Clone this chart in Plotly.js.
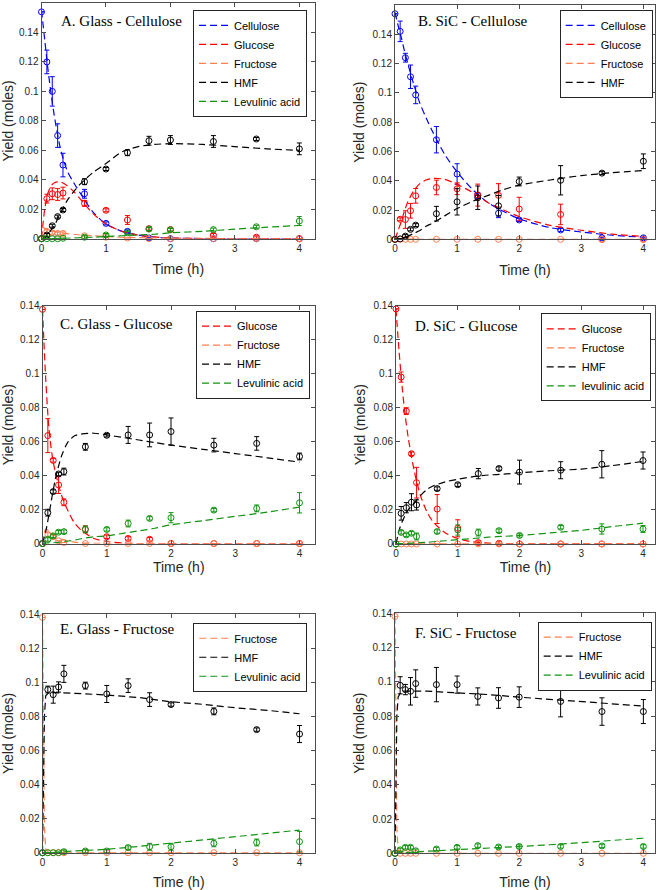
<!DOCTYPE html>
<html>
<head>
<meta charset="utf-8">
<script src="https://cdn.plot.ly/plotly-3.0.1.min.js"></script>
<style>html,body{margin:0;padding:0;background:#fff;}#chart{width:660px;height:890px;}</style>
</head>
<body>
<div id="chart"></div>
<script>
// ---------- sampling times ----------
const tData = [0, 0.083, 0.167, 0.25, 0.333, 0.667, 1, 1.333, 1.667, 2, 2.667, 3.333, 4];
const tModel = [0, 0.05, 0.1, 0.15, 0.2, 0.3, 0.4, 0.5, 0.6, 0.8, 1, 1.25, 1.5, 1.75, 2, 2.5, 3, 3.5, 4];
const tFast = [0, 0.01, 0.02, 0.03, 0.05, 0.1, 0.5, 1, 1.5, 2, 2.5, 3, 3.5, 4];

// ---------- tick labels ----------
const xTickVals = [0, 1, 2, 3, 4];
const xTickText = ['0', '1', '2', '3', '4'];
const yTickVals16 = [0, 0.02, 0.04, 0.06, 0.08, 0.1, 0.12, 0.14, 0.16];
const yTickText16 = ['0', '0.02', '0.04', '0.06', '0.08', '0.1', '0.12', '0.14', '0.16'];
const yTickVals14 = [0, 0.02, 0.04, 0.06, 0.08, 0.1, 0.12, 0.14];
const yTickText14 = ['0', '0.02', '0.04', '0.06', '0.08', '0.1', '0.12', '0.14'];

const panelTitles = ['A. Glass - Cellulose', 'B. SiC - Cellulose', 'C. Glass - Glucose', 'D. SiC - Glucose', 'E. Glass - Fructose', 'F. SiC - Fructose'];
const xTitle = 'Time (h)';
const yTitle = 'Yield (moles)';

// ---------- A. Glass - Cellulose ----------
const A_cel = [0.154, 0.120, 0.100, 0.070, 0.050, 0.0305, 0.0104, 0.005, 0.0005, 0, 0, 0, 0];
const A_cel_err = [0, 0.008, 0.010, 0.008, 0.008, 0.003, 0.001, 0.001, 0, 0, 0, 0, 0];
const A_glu = [0, 0.0272, 0.0305, 0.030, 0.031, 0.024, 0.0193, 0.0127, 0.0068, 0.0062, 0.0025, 0.001, 0];
const A_glu_err = [0, 0.003, 0.004, 0.004, 0.004, 0.002, 0.001, 0.003, 0.001, 0.001, 0.001, 0.001, 0];
const A_fru = [0, 0.005, 0.004, 0.0036, 0.0036, 0.002, 0.001, 0.0005, 0, 0, 0, 0, 0];
const A_fru_err = [0, 0.001, 0.001, 0.001, 0.001, 0, 0, 0, 0, 0, 0, 0, 0];
const A_hmf = [0, 0.0025, 0.0088, 0.015, 0.0195, 0.0387, 0.0473, 0.0584, 0.0665, 0.067, 0.066, 0.0677, 0.061];
const A_hmf_err = [0, 0.001, 0.001, 0.001, 0.001, 0.002, 0.001, 0.002, 0.003, 0.003, 0.004, 0.001, 0.004];
const A_lev = [0, 0, 0, 0, 0.0003, 0.001, 0.0025, 0.004, 0.0065, 0.006, 0.0062, 0.0081, 0.012];
const A_lev_err = [0, 0, 0, 0, 0, 0.001, 0.001, 0.001, 0.001, 0.001, 0.001, 0.001, 0.003];
const A_cel_m = [0.155, 0.135, 0.115, 0.098, 0.083, 0.060, 0.046, 0.038, 0.031, 0.018, 0.010, 0.005, 0.0025, 0.001, 0.0005, 0.0001, 0, 0, 0];
const A_glu_m = [0, 0.020, 0.031, 0.036, 0.038, 0.0385, 0.036, 0.032, 0.027, 0.017, 0.010, 0.005, 0.0025, 0.0012, 0.0005, 0.0001, 0, 0, 0];
const A_fru_m = [0.008, 0.007, 0.006, 0.0055, 0.005, 0.004, 0.0035, 0.003, 0.0025, 0.002, 0.0015, 0.001, 0.0007, 0.0005, 0.0003, 0.0002, 0.0001, 0, 0];
const A_hmf_m = [0, 0.001, 0.003, 0.006, 0.009, 0.018, 0.026, 0.032, 0.037, 0.045, 0.051, 0.059, 0.0625, 0.064, 0.0645, 0.064, 0.0625, 0.061, 0.060];
const A_lev_m = [0, 0, 0, 0, 0.0001, 0.0002, 0.0003, 0.0005, 0.0007, 0.001, 0.0015, 0.002, 0.0025, 0.003, 0.004, 0.005, 0.0065, 0.0078, 0.009];

// ---------- B. SiC - Cellulose ----------
const B_cel = [0.154, 0.142, 0.124, 0.111, 0.0986, 0.068, 0.0446, 0.030, 0.0178, 0.0132, 0.0064, 0.001, 0.001];
const B_cel_err = [0, 0.007, 0.003, 0.008, 0.006, 0.009, 0.007, 0.002, 0.003, 0.001, 0.001, 0, 0];
const B_glu = [0, 0.0137, 0.0135, 0.0195, 0.0297, 0.0354, 0.0345, 0.0302, 0.030, 0.0207, 0.017, 0, 0];
const B_glu_err = [0, 0.001, 0.006, 0.005, 0.005, 0.005, 0.004, 0.0075, 0.008, 0.008, 0.007, 0, 0];
const B_fru = [0, 0, 0, 0, 0, 0, 0, 0, 0, 0, 0, 0, 0];
const B_fru_err = [0, 0, 0, 0, 0, 0, 0, 0, 0, 0, 0, 0, 0];
const B_hmf = [0, 0.0003, 0.0022, 0.0068, 0.0097, 0.0175, 0.0256, 0.0284, 0.0229, 0.0395, 0.0403, 0.0452, 0.0533];
const B_hmf_err = [0, 0, 0.001, 0.001, 0.001, 0.005, 0.009, 0.008, 0.007, 0.003, 0.010, 0.001, 0.005];
const B_cel_m = [0.155, 0.146, 0.138, 0.129, 0.121, 0.106, 0.093, 0.083, 0.074, 0.058, 0.046, 0.034, 0.025, 0.019, 0.014, 0.008, 0.005, 0.0028, 0.0015];
const B_glu_m = [0, 0.006, 0.012, 0.019, 0.025, 0.033, 0.038, 0.0405, 0.0415, 0.041, 0.0375, 0.032, 0.025, 0.020, 0.0155, 0.0095, 0.0062, 0.0035, 0.002];
const B_fru_m = [0, 0, 0, 0, 0, 0, 0, 0, 0, 0, 0, 0, 0, 0, 0, 0, 0, 0, 0];
const B_hmf_m = [0, 0.0002, 0.0005, 0.001, 0.002, 0.004, 0.006, 0.009, 0.011, 0.016, 0.021, 0.026, 0.030, 0.034, 0.037, 0.0405, 0.0435, 0.0455, 0.047];

// ---------- C. Glass - Glucose ----------
const C_glu = [0.138, 0.0636, 0.049, 0.0345, 0.0243, 0.0084, 0.004, 0.003, 0.0025, 0, 0, 0, 0];
const C_glu_err = [0, 0.010, 0.001, 0.005, 0.002, 0.002, 0.001, 0.001, 0.001, 0, 0, 0, 0];
const C_fru = [0, 0.0053, 0.004, 0.0016, 0.0006, 0, 0, 0, 0, 0, 0, 0, 0];
const C_fru_err = [0, 0.001, 0.001, 0, 0, 0, 0, 0, 0, 0, 0, 0, 0];
const C_hmf = [0, 0.0182, 0.0306, 0.041, 0.0424, 0.057, 0.0638, 0.064, 0.064, 0.066, 0.058, 0.059, 0.0513];
const C_hmf_err = [0, 0.002, 0.001, 0.001, 0.002, 0.002, 0.001, 0.005, 0.007, 0.008, 0.004, 0.004, 0.002];
const C_lev = [0, 0.0024, 0.0045, 0.0067, 0.007, 0.0083, 0.0083, 0.0118, 0.0148, 0.0152, 0.0197, 0.0207, 0.024];
const C_lev_err = [0, 0.001, 0.001, 0.001, 0.001, 0.002, 0.001, 0.002, 0.001, 0.003, 0.001, 0.002, 0.006];
const C_glu_m = [0.138, 0.097, 0.068, 0.052, 0.042, 0.028, 0.019, 0.012, 0.008, 0.003, 0.0012, 0.0003, 0, 0, 0, 0, 0, 0, 0];
const C_fru_m = [0, 0.0085, 0.0075, 0.006, 0.0045, 0.0025, 0.0015, 0.0008, 0.0004, 0.0001, 0, 0, 0, 0, 0, 0, 0, 0, 0];
const C_hmf_m = [0, 0.007, 0.017, 0.028, 0.038, 0.052, 0.060, 0.0635, 0.0645, 0.065, 0.064, 0.0625, 0.061, 0.0595, 0.058, 0.0555, 0.053, 0.0505, 0.048];
const C_lev_m = [0, 0.0001, 0.0002, 0.0004, 0.0005, 0.001, 0.0015, 0.002, 0.0028, 0.004, 0.0045, 0.006, 0.0075, 0.009, 0.011, 0.0135, 0.016, 0.0185, 0.0215];

// ---------- D. SiC - Glucose ----------
const D_glu = [0.138, 0.098, 0.078, 0.053, 0.036, 0.0205, 0.0092, 0.0008, 0.0004, 0, 0, 0, 0];
const D_glu_err = [0, 0.003, 0.002, 0.001, 0.009, 0.0085, 0.005, 0.001, 0.001, 0, 0, 0, 0];
const D_fru = [0, 0, 0, 0, 0, 0, 0, 0, 0, 0, 0, 0, 0];
const D_fru_err = [0, 0, 0, 0, 0, 0, 0, 0, 0, 0, 0, 0, 0];
const D_hmf = [0, 0.018, 0.0213, 0.0245, 0.0229, 0.0325, 0.0348, 0.0413, 0.0443, 0.0422, 0.0433, 0.0468, 0.049];
const D_hmf_err = [0, 0.004, 0.003, 0.005, 0.003, 0.001, 0.001, 0.003, 0.001, 0.007, 0.005, 0.008, 0.005];
const D_lev = [0, 0.0068, 0.0053, 0.0063, 0.0044, 0.0073, 0.0082, 0.0067, 0.0078, 0.005, 0.0098, 0.0088, 0.0088];
const D_lev_err = [0, 0.001, 0.001, 0.001, 0.002, 0.001, 0.003, 0.002, 0.001, 0.001, 0.001, 0.003, 0.002];
const D_glu_m = [0.138, 0.113, 0.092, 0.075, 0.062, 0.042, 0.028, 0.019, 0.013, 0.0065, 0.0032, 0.0012, 0.0005, 0.0002, 0.0001, 0, 0, 0, 0];
const D_fru_m = [0, 0, 0, 0, 0, 0, 0, 0, 0, 0, 0, 0, 0, 0, 0, 0, 0, 0, 0];
const D_hmf_m = [0, 0.008, 0.013, 0.017, 0.020, 0.0245, 0.0285, 0.032, 0.034, 0.0365, 0.038, 0.0395, 0.0405, 0.041, 0.0418, 0.043, 0.044, 0.046, 0.0485];
const D_lev_m = [0, 0.0001, 0.0002, 0.0003, 0.0004, 0.0006, 0.0008, 0.001, 0.0013, 0.0019, 0.0025, 0.0032, 0.004, 0.0045, 0.005, 0.0065, 0.008, 0.0102, 0.0122];

// ---------- E. Glass - Fructose ----------
const E_fru = [0.138, 0, 0, 0, 0, 0, 0, 0, 0, 0, 0, 0, 0];
const E_fru_err = [0, 0, 0, 0, 0, 0, 0, 0, 0, 0, 0, 0, 0];
const E_hmf = [0, 0.0957, 0.0927, 0.0972, 0.1049, 0.098, 0.0931, 0.098, 0.0898, 0.0869, 0.0829, 0.0722, 0.0696];
const E_hmf_err = [0, 0.002, 0.005, 0.003, 0.005, 0.002, 0.005, 0.004, 0.004, 0.001, 0.002, 0.001, 0.005];
const E_lev = [0, 0, 0, 0, 0.0006, 0.001, 0.001, 0.003, 0.0035, 0.0035, 0.0055, 0.006, 0.0065];
const E_lev_err = [0, 0, 0, 0, 0.001, 0.001, 0.001, 0.001, 0.002, 0.002, 0.002, 0.002, 0.006];
const E_fru_m = [0.138, 0.09, 0.045, 0.015, 0.002, 0, 0, 0, 0, 0, 0, 0, 0, 0];
const E_hmf_m = [0, 0.03, 0.06, 0.08, 0.092, 0.094, 0.0935, 0.0925, 0.091, 0.0885, 0.087, 0.085, 0.0835, 0.0815];
const E_lev_m = [0, 0, 0, 0, 0, 0.0001, 0.001, 0.002, 0.0037, 0.0055, 0.0074, 0.0094, 0.0113, 0.0133];

// ---------- F. SiC - Fructose ----------
const F_fru = [0.138, 0, 0, 0, 0, 0, 0, 0, 0, 0, 0, 0, 0];
const F_fru_err = [0, 0, 0, 0, 0, 0, 0, 0, 0, 0, 0, 0, 0];
const F_hmf = [0, 0.0979, 0.0954, 0.0944, 0.0989, 0.0983, 0.0983, 0.0914, 0.0905, 0.091, 0.0885, 0.0826, 0.0826];
const F_hmf_err = [0, 0.005, 0.003, 0.008, 0.008, 0.010, 0.005, 0.005, 0.006, 0.006, 0.009, 0.008, 0.007];
const F_lev = [0, 0.002, 0.0035, 0.0035, 0.0015, 0.0025, 0.0035, 0.0045, 0.0037, 0.004, 0.004, 0.0043, 0.004];
const F_lev_err = [0, 0.001, 0.001, 0.001, 0.001, 0.001, 0.001, 0.001, 0.001, 0.001, 0.001, 0.001, 0.001];
const F_fru_m = [0.138, 0.09, 0.045, 0.015, 0.002, 0, 0, 0, 0, 0, 0, 0, 0, 0];
const F_hmf_m = [0, 0.03, 0.06, 0.08, 0.091, 0.0945, 0.0945, 0.0935, 0.0925, 0.091, 0.0897, 0.0885, 0.0872, 0.0858];
const F_lev_m = [0, 0, 0, 0, 0, 0.0002, 0.0012, 0.002, 0.003, 0.004, 0.005, 0.0062, 0.0075, 0.0088];

// ---------- styling ----------
const COL = {cel: '#0000FF', glu: '#FF0000', fru: '#FF7F50', hmf: '#000000', lev: '#119311'};
const DASH = '7px,4px';
const SANS = 'Liberation Sans, Arial, sans-serif';
const SERIF = 'Liberation Serif, Times New Roman, serif';

const traces = [];
function series(p, name, color, tm, ym, yd, err, shape) {
  const ax = p === 1 ? '' : String(p);
  traces.push({
    x: tm, y: ym, type: 'scatter', mode: 'lines', name: name,
    xaxis: 'x' + ax, yaxis: 'y' + ax, legend: 'legend' + ax,
    line: {color: color, dash: DASH, width: 1.2, shape: shape || 'spline', smoothing: 0.8},
    hoverinfo: 'skip'
  });
  traces.push({
    x: tData, y: yd, type: 'scatter', mode: 'markers', name: name, showlegend: false,
    xaxis: 'x' + ax, yaxis: 'y' + ax, cliponaxis: false,
    marker: {symbol: 'circle-open', size: 6, color: color, line: {width: 1, color: color}},
    error_y: {type: 'data', array: err, visible: true, color: color, thickness: 1, width: 2.5}
  });
}

series(1, 'Cellulose', COL.cel, tModel, A_cel_m, A_cel, A_cel_err);
series(1, 'Glucose', COL.glu, tModel, A_glu_m, A_glu, A_glu_err);
series(1, 'Fructose', COL.fru, tModel, A_fru_m, A_fru, A_fru_err);
series(1, 'HMF', COL.hmf, tModel, A_hmf_m, A_hmf, A_hmf_err);
series(1, 'Levulinic acid', COL.lev, tModel, A_lev_m, A_lev, A_lev_err);

series(2, 'Cellulose', COL.cel, tModel, B_cel_m, B_cel, B_cel_err);
series(2, 'Glucose', COL.glu, tModel, B_glu_m, B_glu, B_glu_err);
series(2, 'Fructose', COL.fru, tModel, B_fru_m, B_fru, B_fru_err);
series(2, 'HMF', COL.hmf, tModel, B_hmf_m, B_hmf, B_hmf_err);

series(3, 'Glucose', COL.glu, tModel, C_glu_m, C_glu, C_glu_err);
series(3, 'Fructose', COL.fru, tModel, C_fru_m, C_fru, C_fru_err);
series(3, 'HMF', COL.hmf, tModel, C_hmf_m, C_hmf, C_hmf_err);
series(3, 'Levulinic acid', COL.lev, tModel, C_lev_m, C_lev, C_lev_err);

series(4, 'Glucose', COL.glu, tModel, D_glu_m, D_glu, D_glu_err);
series(4, 'Fructose', COL.fru, tModel, D_fru_m, D_fru, D_fru_err);
series(4, 'HMF', COL.hmf, tModel, D_hmf_m, D_hmf, D_hmf_err);
series(4, 'levulinic acid', COL.lev, tModel, D_lev_m, D_lev, D_lev_err);

series(5, 'Fructose', COL.fru, tFast, E_fru_m, E_fru, E_fru_err, 'linear');
series(5, 'HMF', COL.hmf, tFast, E_hmf_m, E_hmf, E_hmf_err, 'linear');
series(5, 'Levulinic acid', COL.lev, tFast, E_lev_m, E_lev, E_lev_err, 'linear');

series(6, 'Fructose', COL.fru, tFast, F_fru_m, F_fru, F_fru_err, 'linear');
series(6, 'HMF', COL.hmf, tFast, F_hmf_m, F_hmf, F_hmf_err, 'linear');
series(6, 'Levulinic acid', COL.lev, tFast, F_lev_m, F_lev, F_lev_err, 'linear');

// ---------- layout ----------
const panels = [
  {xd: [0.0629, 0.4773], yd: [0.7318, 0.9966], xr: [0, 4.243], yr: [0, 0.16], tv: yTickVals16, tt: yTickText16, lx: 0.4652, ly: 0.9888, ax: 0.0894, ay: 0.9764, so: 11},
  {xd: [0.5985, 0.9924], yd: [0.7311, 0.9944], xr: [0, 4.187], yr: [0, 0.16], tv: yTickVals16, tt: yTickText16, lx: 0.9889, ly: 0.9888, ax: 0.6303, ay: 0.9764, so: 11},
  {xd: [0.0644, 0.4773], yd: [0.3893, 0.6562], xr: [0, 4.241], yr: [0, 0.14], tv: yTickVals14, tt: yTickText14, lx: 0.4697, ly: 0.6509, ax: 0.0883, ay: 0.6365, so: 3},
  {xd: [0.6000, 0.9924], yd: [0.3888, 0.6567], xr: [0, 4.194], yr: [0, 0.14], tv: yTickVals14, tt: yTickText14, lx: 0.9859, ly: 0.6480, ax: 0.6262, ay: 0.6340, so: 3},
  {xd: [0.0644, 0.4773], yd: [0.0419, 0.3101], xr: [0, 4.241], yr: [0, 0.14], tv: yTickVals14, tt: yTickText14, lx: 0.4656, ly: 0.3003, ax: 0.0883, ay: 0.2933, so: 10},
  {xd: [0.5985, 0.9924], yd: [0.0412, 0.3112], xr: [0, 4.187], yr: [0, 0.14], tv: yTickVals14, tt: yTickText14, lx: 0.9874, ly: 0.3015, ax: 0.6253, ay: 0.2891, so: 10}
];

const layout = {
  width: 660, height: 890,
  margin: {l: 0, r: 0, t: 0, b: 0},
  paper_bgcolor: '#ffffff', plot_bgcolor: '#ffffff',
  font: {family: SANS, color: '#262626'},
  annotations: []
};
const axCommon = {
  showline: true, linecolor: '#4d4d4d', linewidth: 1, mirror: 'ticks',
  ticks: 'inside', ticklen: 4, tickcolor: '#4d4d4d', tickwidth: 1,
  showgrid: false, zeroline: false, automargin: false, fixedrange: true,
  tickfont: {family: SANS, size: 10, color: '#262626'}
};
panels.forEach((p, i) => {
  const n = i + 1, s = n === 1 ? '' : String(n);
  layout['xaxis' + s] = Object.assign({}, axCommon, {
    domain: p.xd, range: p.xr, anchor: 'y' + s,
    tickmode: 'array', tickvals: xTickVals, ticktext: xTickText,
    title: {text: xTitle, font: {family: SANS, size: 14, color: '#262626'}, standoff: p.so}
  });
  layout['yaxis' + s] = Object.assign({}, axCommon, {
    domain: p.yd, range: p.yr, anchor: 'x' + s,
    tickmode: 'array', tickvals: p.tv, ticktext: p.tt,
    title: {text: yTitle, font: {family: SANS, size: 14, color: '#262626'}, standoff: 4}
  });
  layout['legend' + s] = {
    x: p.lx, y: p.ly, xanchor: 'right', yanchor: 'top', xref: 'paper', yref: 'paper',
    bgcolor: '#ffffff', bordercolor: '#262626', borderwidth: 1,
    font: {family: SANS, size: 11, color: '#000000'}, itemwidth: 30, tracegroupgap: 0
  };
  layout.annotations.push({
    text: panelTitles[i], xref: 'paper', yref: 'paper', x: p.ax, y: p.ay,
    xanchor: 'left', yanchor: 'middle', showarrow: false,
    font: {family: SERIF, size: 15, color: '#000000'}
  });
});

Plotly.newPlot('chart', traces, layout, {displayModeBar: false, staticPlot: true});
</script>
</body>
</html>
